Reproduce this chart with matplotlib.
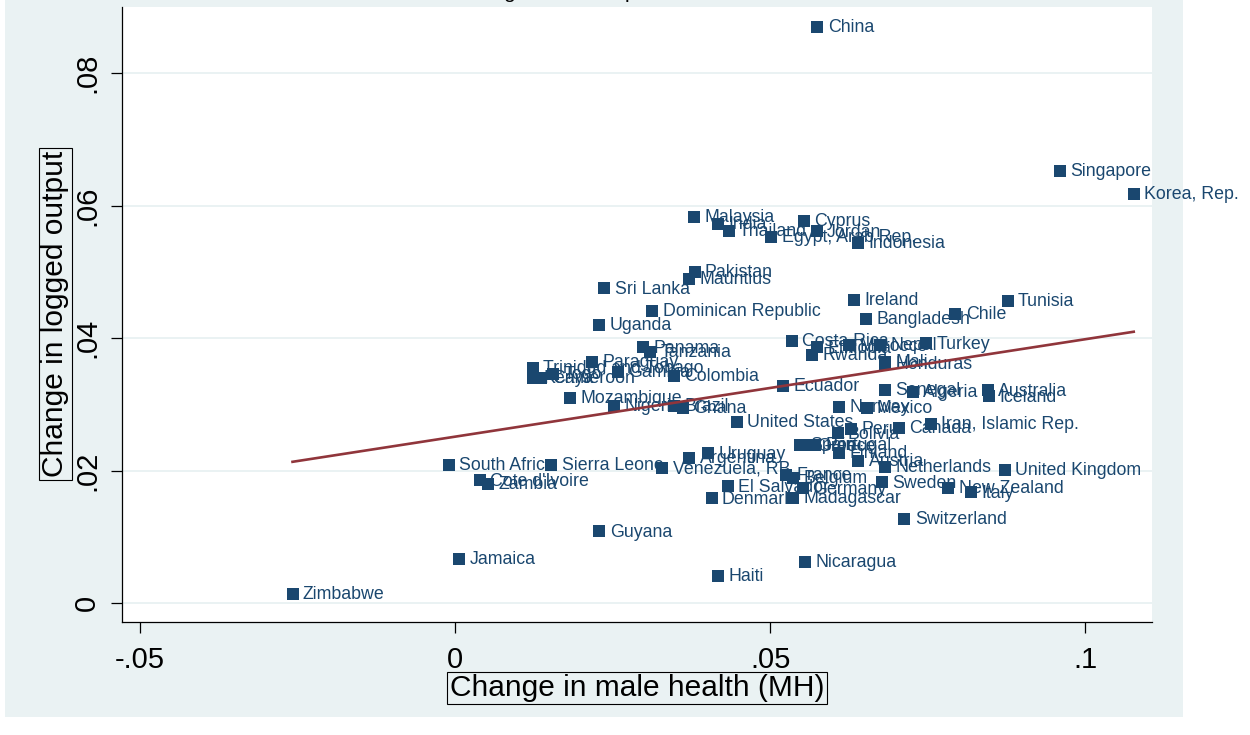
import matplotlib
matplotlib.use("Agg")
import matplotlib.pyplot as plt
import numpy as np
from matplotlib.patches import Rectangle

plt.rcParams['font.family'] = ['Liberation Sans', 'DejaVu Sans']

countries = ["China", "Singapore", "Korea, Rep.", "Malaysia", "India", "Thailand",
             "Egypt, Arab Rep.", "Cyprus", "Jordan", "Indonesia", "Pakistan", "Mauritius",
             "Sri Lanka", "Dominican Republic", "Uganda", "Ireland", "Bangladesh", "Chile",
             "Tunisia", "Panama", "Tanzania", "Costa Rica", "Ethiopia", "Rwanda", "Morocco",
             "Nepal", "Turkey", "Mali", "Honduras", "Paraguay", "Trinidad and Tobago", "Kenya",
             "Cameroon", "Togo", "Gambia", "Colombia", "Mozambique", "Nigeria", "Brazil",
             "Ghana", "Ecuador", "Senegal", "Algeria", "Australia", "Iceland", "Norway",
             "Mexico", "United States", "Iran, Islamic Rep.", "Canada", "Peru", "Bolivia",
             "Spain", "Greece", "Portugal", "Finland", "Austria", "Netherlands",
             "United Kingdom", "Sweden", "New Zealand", "Italy", "Switzerland", "Uruguay",
             "Argentina", "Venezuela, RB", "Sierra Leone", "South Africa", "Cote d'Ivoire",
             "Zambia", "El Salvador", "Denmark", "France", "Belgium", "Germany", "Madagascar",
             "Guyana", "Jamaica", "Haiti", "Nicaragua", "Zimbabwe"]

male_health = [0.0575, 0.0960, 0.1077, 0.0379, 0.0417, 0.0434,
               0.0502, 0.0553, 0.0574, 0.0639, 0.0380, 0.0371,
               0.0237, 0.0313, 0.0229, 0.0633, 0.0652, 0.0794,
               0.0877, 0.0299, 0.0310, 0.0534, 0.0574, 0.0566, 0.0625,
               0.0674, 0.0748, 0.0682, 0.0682, 0.0218, 0.0123, 0.0123,
               0.0137, 0.0155, 0.0258, 0.0347, 0.0182, 0.0252, 0.0347,
               0.0361, 0.0520, 0.0682, 0.0726, 0.0845, 0.0847, 0.0610,
               0.0653, 0.0447, 0.0755, 0.0704, 0.0628, 0.0607,
               0.0547, 0.0558, 0.0571, 0.0609, 0.0640, 0.0683,
               0.0872, 0.0677, 0.0783, 0.0818, 0.0713, 0.0402,
               0.0372, 0.0329, 0.0153, -0.0010, 0.0039,
               0.0052, 0.0433, 0.0407, 0.0525, 0.0536, 0.0552, 0.0536,
               0.0229, 0.0006, 0.0417, 0.0556, -0.0258]

logged_output = [0.0870, 0.0653, 0.0618, 0.0583, 0.0573, 0.0562,
                 0.0553, 0.0577, 0.0561, 0.0544, 0.0500, 0.0490,
                 0.0475, 0.0441, 0.0420, 0.0458, 0.0429, 0.0437,
                 0.0456, 0.0386, 0.0379, 0.0396, 0.0386, 0.0375, 0.0389,
                 0.0390, 0.0392, 0.0364, 0.0361, 0.0364, 0.0355, 0.0340,
                 0.0340, 0.0346, 0.0349, 0.0343, 0.0310, 0.0298, 0.0298,
                 0.0295, 0.0328, 0.0322, 0.0319, 0.0321, 0.0312, 0.0296,
                 0.0295, 0.0274, 0.0271, 0.0265, 0.0263, 0.0256,
                 0.0239, 0.0238, 0.0239, 0.0227, 0.0215, 0.0206,
                 0.0201, 0.0182, 0.0174, 0.0167, 0.0127, 0.0226,
                 0.0219, 0.0204, 0.0209, 0.0209, 0.0185,
                 0.0180, 0.0176, 0.0158, 0.0194, 0.0189, 0.0173, 0.0159,
                 0.0108, 0.0066, 0.0041, 0.0062, 0.0014]

x_ticks = [-0.05, 0, 0.05, 0.1]
x_tick_labels = ["-.05", "0", ".05", ".1"]
y_ticks = [0, 0.02, 0.04, 0.06, 0.08]
y_tick_labels = ["0", ".02", ".04", ".06", ".08"]

title_text = "Change in real output and MH"
x_title = "Change in male health (MH)"
y_title = "Change in logged output"

BG = "#EAF2F3"
NAVY = "#1a476f"
MAROON = "#90353b"

W, H = 1250, 735
fig = plt.figure(figsize=(12.5, 7.35), dpi=100, facecolor="white")
fig.patches.append(Rectangle((5 / W, (H - 717) / H), (1183 - 5) / W, 717 / H,
                             transform=fig.transFigure, facecolor=BG, edgecolor="none", zorder=-10))

ax = fig.add_axes([122 / W, (H - 622) / H, (1152 - 122) / W, (622 - 7) / H])
ax.set_facecolor("white")

x = np.array(male_health)
y = np.array(logged_output)

ax.set_xlim(-0.05286, 0.1106)
ax.set_ylim(-0.00287, 0.0900)

for yt in y_ticks:
    ax.axhline(yt, color=BG, lw=1.4, zorder=0)

ax.scatter(x, y, marker="s", s=72, color=NAVY, zorder=3, linewidths=0)
for name, xi, yi in zip(countries, x, y):
    ax.annotate(name, (xi, yi), xytext=(7.5, -0.5), textcoords="offset points",
                va="center", ha="left", fontsize=12.8, color=NAVY, zorder=2)

slope, intercept = np.polyfit(x, y, 1)
xs = np.array([x.min(), x.max()])
ax.plot(xs, intercept + slope * xs, color=MAROON, lw=1.9, zorder=4)

ax.set_xticks(x_ticks)
ax.set_xticklabels(x_tick_labels)
ax.set_yticks(y_ticks)
ax.set_yticklabels(y_tick_labels, rotation=90, va="center")
ax.tick_params(axis="both", labelsize=21, length=8, width=0.9, direction="out", color="black")
ax.tick_params(axis="x", pad=9)
ax.tick_params(axis="y", pad=7)

for s in ["top", "right"]:
    ax.spines[s].set_visible(False)
for s in ["left", "bottom"]:
    ax.spines[s].set_color("black")
    ax.spines[s].set_linewidth(0.9)

box = dict(boxstyle="square,pad=0.08", facecolor=BG, edgecolor="black", linewidth=0.8)
fig.text(637 / W, (H - 688) / H, x_title, ha="center", va="center", fontsize=21.5, bbox=box)
fig.text(55.5 / W, (H - 314) / H, y_title, ha="center", va="center", rotation=90,
         fontsize=21.5, bbox=box)

fig.text(594 / W, 1 + 2.5 / H, title_text, ha="center", va="baseline", fontsize=15)

fig.savefig("out.png", dpi=100, facecolor="white")
